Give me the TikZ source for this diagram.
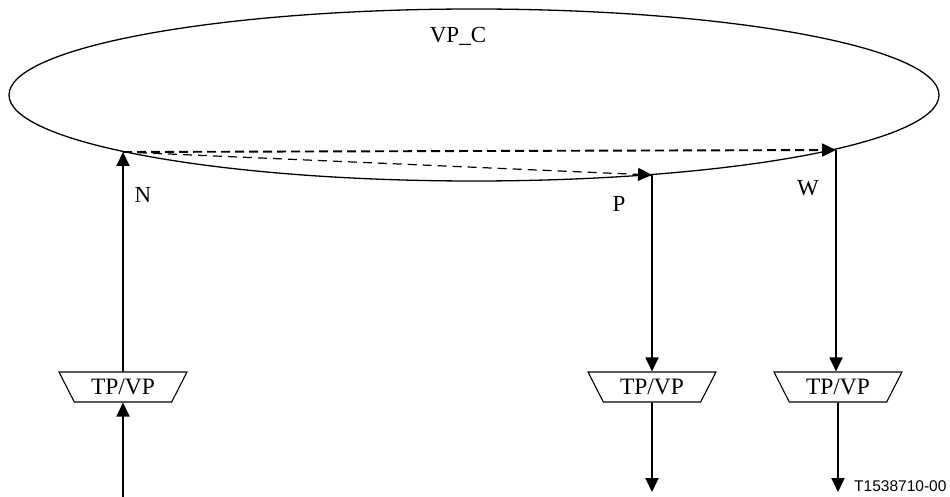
\documentclass[tikz,border=0pt]{standalone}
\usepackage{fontspec}
\setmainfont{Liberation Serif}
\newfontfamily\labelsans{Liberation Sans}
\usetikzlibrary{arrows.meta,shapes.geometric}
\tikzset{
  tip/.style={-{Triangle[length=14pt,width=13pt]}},
  vline/.style={line width=1.9pt,tip},
  tpvp/.style={draw,line width=1.1pt,trapezium,trapezium left angle=57.6,trapezium right angle=57.6,
    shape border rotate=180,trapezium stretches=true,minimum width=129pt,minimum height=30pt,inner sep=0pt,
    font=\fontsize{23.5pt}{25pt}\selectfont},
  lbl/.style={font=\fontsize{23pt}{25pt}\selectfont,inner sep=0pt},
  thickdash/.style={line width=1.9pt,dash pattern=on 9pt off 5pt,tip},
  thindash/.style={line width=1.2pt,dash pattern=on 9pt off 6pt,tip},
}
\begin{document}
\begin{tikzpicture}[x=1pt,y=-1pt]
\useasboundingbox (0,0) rectangle (950,497);
% cloud
\draw[line width=1.3pt] (474,95) ellipse [x radius=465pt, y radius=86pt];
\node[lbl,anchor=base] (vpc) at (458,43) {VP\_C};
% points on the ellipse
\coordinate (N) at (123,152);
\coordinate (P) at (652,175);
\coordinate (W) at (836,150);
% boxes
\node[tpvp] (bL) at (123,387) {TP/VP};
\node[tpvp] (bP) at (652,387) {TP/VP};
\node[tpvp] (bW) at (838,387) {TP/VP};
% free ends
\coordinate (eL) at (123,497);
\coordinate (eP) at (652,492);
\coordinate (eW) at (838,492);
% connectors
\draw[vline] (bL.north) -- (N);
\draw[vline] (eL) -- (bL.south);
\draw[vline] (P) -- (P |- bP.north);
\draw[vline] (bP.south) -- (eP);
\draw[vline] (W) -- (W |- bW.north);
\draw[vline] (bW.south) -- (eW);
\draw[thickdash] (N) -- (W);
\draw[thindash] (N) -- (P);
% labels
\node[lbl] (lN) at (143,195) {N};
\node[lbl] (lP) at (619,204) {P};
\node[lbl] (lW) at (808,188) {W};
\node[anchor=base west,inner sep=0pt,font=\labelsans\fontsize{15.5pt}{17pt}\selectfont] (ref) at (854,491) {T1538710-00};
\end{tikzpicture}
\end{document}
